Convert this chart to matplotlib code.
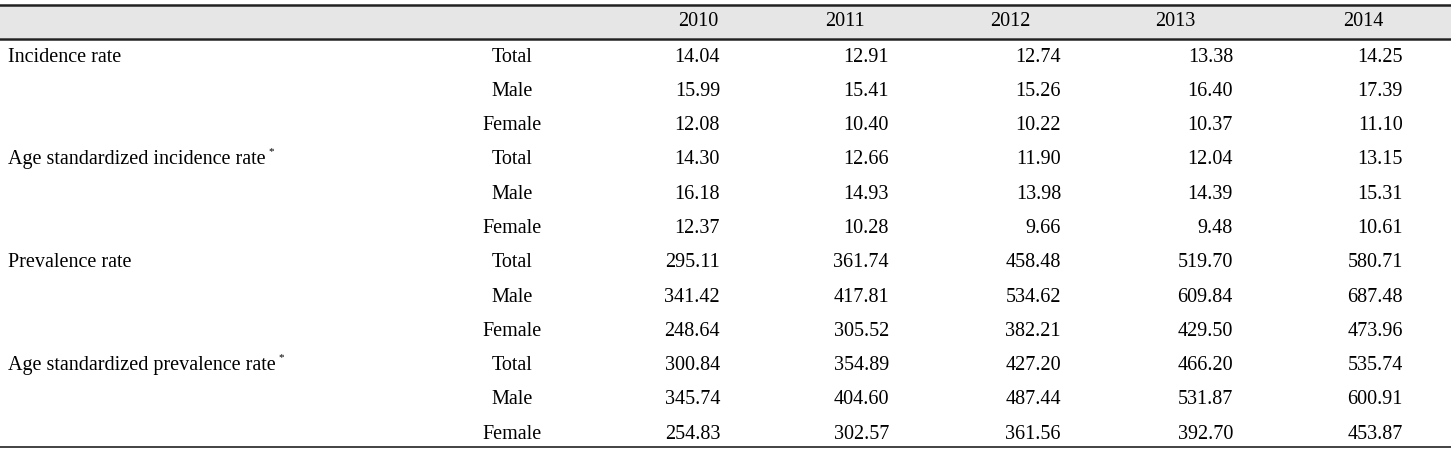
import matplotlib.pyplot as plt

years = ['2010', '2011', '2012', '2013', '2014']
groups = ['Incidence rate', 'Age standardized incidence rate',
          'Prevalence rate', 'Age standardized prevalence rate']
starred = [False, True, False, True]
sexes = ['Total', 'Male', 'Female']

values = [
    ['14.04', '12.91', '12.74', '13.38', '14.25'],
    ['15.99', '15.41', '15.26', '16.40', '17.39'],
    ['12.08', '10.40', '10.22', '10.37', '11.10'],
    ['14.30', '12.66', '11.90', '12.04', '13.15'],
    ['16.18', '14.93', '13.98', '14.39', '15.31'],
    ['12.37', '10.28', '9.66', '9.48', '10.61'],
    ['295.11', '361.74', '458.48', '519.70', '580.71'],
    ['341.42', '417.81', '534.62', '609.84', '687.48'],
    ['248.64', '305.52', '382.21', '429.50', '473.96'],
    ['300.84', '354.89', '427.20', '466.20', '535.74'],
    ['345.74', '404.60', '487.44', '531.87', '600.91'],
    ['254.83', '302.57', '361.56', '392.70', '453.87'],
]

plt.rcParams['font.family'] = ['Liberation Serif', 'DejaVu Serif']
W, H = 1451, 450
fig = plt.figure(figsize=(W / 100, H / 100), dpi=100)
ax = fig.add_axes([0, 0, 1, 1])
ax.set_xlim(0, W)
ax.set_ylim(H, 0)
ax.axis('off')
fs = 14.5

# header band and rules
ax.fill_between([0, W], 6, 38, color='#e6e6e6', lw=0)
ax.plot([0, W], [5, 5], color='#222222', lw=1.8)
ax.plot([0, W], [38.5, 38.5], color='#222222', lw=1.8)
ax.plot([0, W], [447, 447], color='#222222', lw=1.2)

year_x = [698, 845, 1010, 1175, 1363]
val_right = [720, 889, 1061, 1233, 1403]
for x, yr in zip(year_x, years):
    ax.text(x, 22, yr, ha='center', va='center', fontsize=fs)

renderer = fig.canvas.get_renderer()
y0, dy = 57, 34.3
for i, row in enumerate(values):
    y = y0 + i * dy
    if i % 3 == 0:
        g = i // 3
        t = ax.text(8, y, groups[g], ha='left', va='center', fontsize=fs)
        if starred[g]:
            x_end = t.get_window_extent(renderer).x1
            ax.text(x_end + 3, y - 8, '*', ha='left', va='center', fontsize=8)
    ax.text(512, y, sexes[i % 3], ha='center', va='center', fontsize=fs)
    for x, v in zip(val_right, row):
        ax.text(x, y, v, ha='right', va='center', fontsize=fs)

fig.savefig('out.png', dpi=100)
